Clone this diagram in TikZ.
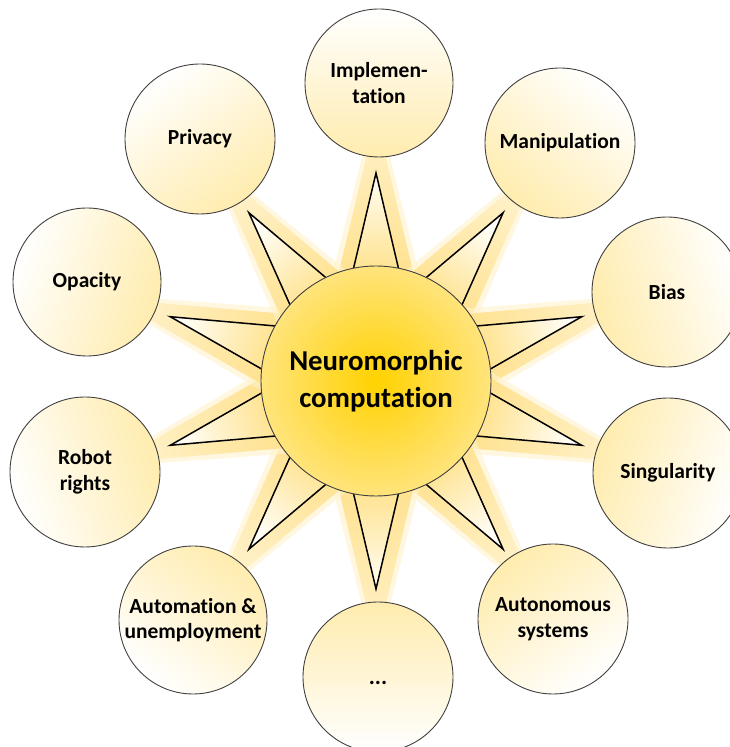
\documentclass[tikz,border=0pt]{standalone}
\usepackage{fontspec}
\setmainfont{Carlito}[Ligatures={NoCommon,NoContextual}]
\definecolor{sunA}{HTML}{FFD200}
\definecolor{sunB}{HTML}{FFE47C}
\definecolor{glowA}{HTML}{FFE08A}
\definecolor{glowB}{HTML}{FFF2CC}
\definecolor{triA}{HTML}{FFDF80}
\definecolor{triB}{HTML}{FFFDF6}
\definecolor{ballA}{HTML}{FFECAE}
\definecolor{edgegray}{HTML}{404040}
\tikzset{
  ball/.style={circle, inner sep=0pt, minimum size=150pt, draw=edgegray, line width=0.9pt,
    top color=white, bottom color=ballA, align=center,
    font=\fontsize{21.5}{25.5}\selectfont\bfseries},
  sun/.style={circle, inner sep=0pt, minimum size=230pt, draw=edgegray, line width=0.9pt,
    inner color=sunA, outer color=sunB, align=center,
    font=\fontsize{28.8}{37}\selectfont\bfseries},
  spikeline/.style={draw=black, line width=1.5pt, line join=miter}
}
\begin{document}
\begin{tikzpicture}[x=1pt,y=1pt]
\useasboundingbox (0,0) rectangle (729,747);
\coordinate (ctr) at (376,366);
% spikes with glow
\foreach \a in {90,54,18,-18,-54,-90,-126,-162,162,126}{
  \pgfmathsetmacro\sa{\a-90}
  \begin{scope}[shift={(ctr)}, xscale=1.04, rotate=\a]
    \fill[glowB, opacity=0.6] (90,46) -- (280,0) -- (90,-46) -- cycle;
    \shade[top color=glowB, bottom color=glowA, shading angle=\sa] (90,40) -- (265,0) -- (90,-40) -- cycle;
    \shade[spikeline, top color=triB, bottom color=triA, shading angle=\sa] (95,25.6) -- (208,0) -- (95,-25.6) -- cycle;
  \end{scope}
}
\node[sun] (c) at (ctr) {Neuromorphic\\computation};
\node[ball, minimum size=148pt, shading angle=0] (impl) at (379,664) {Implemen-\\tation};
\node[ball, shading angle=-37.7] (manip) at (560,604) {Manipulation};
\node[ball, shading angle=-73] (bias) at (667,455) {Bias};
\node[ball, shading angle=-107.5] (sing) at (668,274) {Singularity};
\node[ball, shading angle=-143.4] (auto) at (553,128) {Autonomous\\systems};
\node[ball, shading angle=180] (dots) at (378,70) {\smash{\raisebox{-7.5pt}{\fontsize{23}{25}\selectfont ...}}};
\node[ball, minimum size=148pt, shading angle=142.6] (autom) at (193,127) {Automation \&\\unemployment};
\node[ball, shading angle=107.4] (robot) at (85,275) {Robot\\rights};
\node[ball, minimum size=148pt, shading angle=71.1] (opac) at (87,465) {Opacity};
\node[ball, shading angle=36] (priv) at (200,608) {Privacy};
\end{tikzpicture}
\end{document}
